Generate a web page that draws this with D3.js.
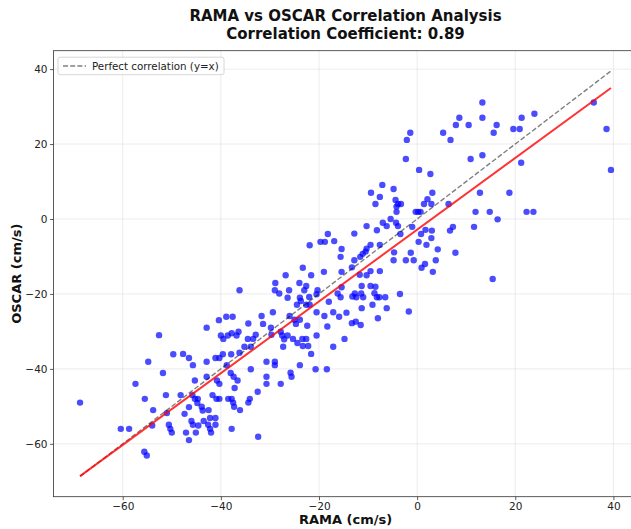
<!DOCTYPE html>
<html>
<head>
<meta charset="utf-8">
<script src="https://cdn.jsdelivr.net/npm/d3@7"></script>
<style>
  body { margin: 0; background: #fff; }
  svg { display: block; font-family: "DejaVu Sans", sans-serif; }
</style>
</head>
<body>
<svg id="chart" width="631" height="529"></svg>
<script>
// Paired current speeds (cm/s): RAMA mooring vs OSCAR product
const rama = [
  -68.7,-52.6,-54.8,-57.4,-55.5,-53.8,-60.4,-58.7,-55.6,-55.1,-51.8,-51.2,-51.0,-54.0,-50.6,-50.3,-50.0,-49.7,-47.7,-46.5,-48.2,-47.4,-47.1,-46.5,-46.5,
  -45.7,-45.3,-42.9,-42.9,-41.1,-40.3,-39.6,-37.9,-40.0,-39.5,-38.6,-37.8,-36.8,-36.4,-35.2,-33.9,-34.5,-33.4,-32.9,-36.2,-38.8,-38.0,-37.4,-36.6,-40.8,-40.3,-33.9,-37.2,-32.5,-45.8,-45.3,-44.7,-44.8,-43.9,-43.7,-42.5,-41.7,-40.9,-40.3,-38.5,-37.8,-37.5,-37.3,-36.1,-34.4,-34.1,-46.0,-45.7,-44.6,-45.1,-43.5,-42.6,-42.2,-42.0,-42.2,-41.1,-41.1,-37.8,-32.4,
  -23.3,-26.8,-21.6,-19.0,-28.9,-24.0,-29.0,-28.1,-26.1,-22.6,-23.0,-20.3,-36.2,-26.4,-23.9,-23.7,-24.5,-22.0,-21.9,-20.5,-22.6,-20.5,-18.9,-18.0,-29.4,-26.0,-25.0,-24.7,-23.9,-22.4,-31.7,-31.4,-29.8,-34.4,-40.4,-38.9,-37.6,-42.9,-18.3,-21.9,-19.7,-18.8,-18.2,
  -27.8,-27.5,-26.4,-27.1,-25.3,-24.4,-23.4,-22.6,-23.3,-22.2,-21.6,-20.5,-27.3,-30.7,-29.0,-29.0,-30.7,-30.7,-27.8,-25.8,-25.6,-23.9,-20.7,-18.4,-17.1,-14.8,-29.7,
  -9.4,-7.6,-8.5,-4.4,-3.9,-3.3,-4.2,-4.2,-0.3,0.2,0.7,1.4,2.1,-5.4,-7.0,-6.2,-4.3,-3.9,-10.3,-8.2,-12.8,-16.9,-15.4,-15.6,-9.5,-7.6,-10.3,-10.5,-11.1,-11.6,-12.8,-4.7,-1.3,0.8,0.3,1.7,1.9,1.6,-4.8,-2.3,-0.7,0.9,-7.6,-9.5,-10.3,-11.7,-13.3,-15.4,-11.3,-9.5,-8.5,-8.7,-8.2,-11.4,-12.7,-13.2,-12.4,-11.0,-15.4,-16.2,-15.6,-7.7,-6.5,-9.1,-6.2,-3.5,-1.7,-8.0,-11.3,-17.1,-13.3,-12.5,-11.5,-3.4,-1.0,-14.4,-15.9,
  13.3,13.3,8.6,7.9,10.5,5.3,6.8,15.6,16.2,19.6,20.9,21.3,23.9,36.0,38.6,39.5,13.3,10.9,21.2,18.8,12.8,11.9,14.8,16.4,22.3,23.7,6.4,3.1,2.9,2.7,3.0,2.9,4.2,3.8,3.2,6.7,7.3,7.8,11.6,15.4,-1.4,-2.1,-2.3,0.4,-7.1,-4.8
];
const oscar = [
  -49.0,-31.0,-38.1,-44.0,-48.0,-51.0,-56.0,-56.0,-62.1,-63.1,-41.1,-47.0,-51.8,-55.1,-54.9,-56.0,-57.0,-36.1,-36.0,-37.1,-47.0,-52.0,-57.0,-59.0,-50.2,
  -39.0,-43.1,-38.1,-42.1,-37.1,-37.1,-36.1,-36.1,-31.1,-32.0,-31.1,-30.5,-31.1,-30.1,-34.1,-34.1,-32.0,-32.0,-30.9,-35.7,-39.0,-41.1,-42.1,-43.1,-43.1,-44.0,-40.1,-45.1,-46.1,-47.0,-48.0,-48.0,-49.1,-50.1,-51.1,-51.0,-47.0,-48.0,-48.0,-48.0,-48.0,-49.0,-50.1,-51.0,-49.0,-48.0,-53.9,-54.9,-55.1,-57.0,-53.9,-54.9,-56.0,-57.0,-53.1,-53.1,-54.9,-56.0,-58.1,
  -13.0,-15.0,-15.0,-14.1,-17.1,-17.1,-19.0,-19.9,-19.0,-17.9,-19.0,-19.0,-19.0,-21.0,-21.0,-21.9,-22.9,-20.8,-22.9,-20.1,-22.9,-24.9,-25.9,-22.1,-24.9,-25.9,-26.9,-28.0,-26.9,-28.5,-25.9,-28.0,-29.0,-27.9,-27.0,-26.1,-26.1,-29.0,-28.7,-7.0,-6.1,-6.1,-4.0,
  -30.1,-31.1,-31.1,-32.1,-32.0,-33.1,-32.0,-32.0,-33.9,-33.9,-36.0,-31.1,-34.1,-38.1,-38.1,-39.0,-42.1,-44.0,-44.0,-41.0,-42.1,-39.0,-40.1,-40.1,-34.1,-32.0,-30.9,
  7.0,5.9,4.0,5.1,4.0,4.0,3.3,1.9,1.9,1.9,1.9,4.0,5.3,0.0,-1.0,-1.9,-1.0,-1.9,-1.9,-3.0,-3.9,-5.9,-8.0,-10.1,-6.9,-6.9,-7.9,-8.7,-9.3,-10.1,-11.0,-8.9,-9.0,-4.0,-6.1,-2.9,-6.9,-12.0,-11.0,-11.0,-11.0,-13.0,-13.9,-13.9,-15.0,-14.9,-12.9,-14.1,-17.9,-17.9,-18.1,-19.8,-20.9,-19.9,-19.9,-20.7,-20.9,-20.9,-18.2,-19.9,-20.9,-20.9,-20.9,-22.9,-23.8,-20.0,-24.7,-26.5,-23.8,-24.9,-27.8,-27.4,-28.3,-4.0,-2.1,-25.0,-26.1,
  31.1,27.0,27.0,25.1,25.1,23.0,21.1,23.0,25.1,24.0,24.0,27.0,28.1,31.1,24.0,13.1,17.0,16.0,15.0,7.0,7.0,1.9,1.9,-0.1,1.9,1.9,4.0,7.0,4.0,12.0,-3.1,-5.1,-8.1,-11.0,-14.1,-3.1,-2.1,-9.0,-2.1,-16.0,23.0,21.1,16.0,13.1,9.1,8.0
];

const xTicks = [-60, -40, -20, 0, 20, 40];
const yTicks = [-60, -40, -20, 0, 20, 40];
const titleLines = ["RAMA vs OSCAR Correlation Analysis", "Correlation Coefficient: 0.89"];
const xLabel = "RAMA (cm/s)";
const yLabel = "OSCAR (cm/s)";
const legendLabel = "Perfect correlation (y=x)";

const svg = d3.select("#chart");
const margin = { left: 53.5, top: 50.7 };
const plotW = 584, plotH = 446;

// Shared range for the 1:1 reference line and both axes (5% padding)
const lo = Math.min(d3.min(rama), d3.min(oscar));
const hi = Math.max(d3.max(rama), d3.max(oscar));
const pad = (hi - lo) * 0.05;

const x = d3.scaleLinear().domain([lo - pad, hi + pad]).range([0, plotW]);
const y = d3.scaleLinear().domain([lo - pad, hi + pad]).range([plotH, 0]);

// Least-squares fit of OSCAR on RAMA
const n = rama.length;
const mx = d3.mean(rama), my = d3.mean(oscar);
let sxy = 0, sxx = 0;
for (let i = 0; i < n; i++) {
  sxy += (rama[i] - mx) * (oscar[i] - my);
  sxx += (rama[i] - mx) ** 2;
}
const slope = sxy / sxx;
const intercept = my - slope * mx;

const g = svg.append("g").attr("transform", `translate(${margin.left},${margin.top})`);

const clip = svg.append("defs").append("clipPath").attr("id", "plot-clip");
clip.append("rect").attr("width", plotW).attr("height", plotH);

// Grid
const grid = g.append("g").attr("stroke", "#b0b0b0").attr("stroke-opacity", 0.3).attr("stroke-width", 0.8);
grid.selectAll("line.gx").data(xTicks).join("line")
  .attr("x1", d => x(d)).attr("x2", d => x(d)).attr("y1", 0).attr("y2", plotH);
grid.selectAll("line.gy").data(yTicks).join("line")
  .attr("x1", 0).attr("x2", plotW).attr("y1", d => y(d)).attr("y2", d => y(d));

const marks = g.append("g").attr("clip-path", "url(#plot-clip)");

// Scatter points
marks.append("g").selectAll("circle")
  .data(d3.range(n)).join("circle")
  .attr("cx", i => x(rama[i]))
  .attr("cy", i => y(oscar[i]))
  .attr("r", 3.2)
  .attr("fill", "#0000ff")
  .attr("fill-opacity", 0.7);

// Perfect-correlation line
const xr = [d3.min(rama), d3.max(rama)];
marks.append("line")
  .attr("x1", x(lo)).attr("y1", y(lo)).attr("x2", x(hi)).attr("y2", y(hi))
  .attr("stroke", "#000").attr("stroke-opacity", 0.5)
  .attr("stroke-width", 1.4).attr("stroke-dasharray", "5,2.2");

// Regression line
marks.append("line")
  .attr("x1", x(xr[0])).attr("y1", y(slope * xr[0] + intercept))
  .attr("x2", x(xr[1])).attr("y2", y(slope * xr[1] + intercept))
  .attr("stroke", "#ff0000").attr("stroke-opacity", 0.8).attr("stroke-width", 2);

// Axes
const fmt = d3.format("");
const xAxis = g.append("g").attr("transform", `translate(0,${plotH})`)
  .call(d3.axisBottom(x).tickValues(xTicks).tickSize(3.5).tickPadding(2.5).tickFormat(fmt));
const yAxis = g.append("g")
  .call(d3.axisLeft(y).tickValues(yTicks).tickSize(3.5).tickPadding(2.5).tickFormat(fmt));
[xAxis, yAxis].forEach(a => {
  a.select(".domain").remove();
  a.selectAll(".tick line").attr("stroke", "#333").attr("stroke-width", 0.8);
  a.selectAll(".tick text").attr("fill", "#222").style("font-size", "10.5px")
    .style("font-family", '"DejaVu Sans", sans-serif');
});

// Frame
g.append("rect").attr("width", plotW).attr("height", plotH)
  .attr("fill", "none").attr("stroke", "#333").attr("stroke-width", 0.8);

// Legend
const lg = g.append("g").attr("transform", "translate(4.5,6.5)");
lg.append("rect").attr("width", 166).attr("height", 17.5).attr("rx", 2)
  .attr("fill", "#fff").attr("fill-opacity", 0.8).attr("stroke", "#cccccc").attr("stroke-width", 0.8);
lg.append("line").attr("x1", 5).attr("x2", 28).attr("y1", 8.8).attr("y2", 8.8)
  .attr("stroke", "#000").attr("stroke-opacity", 0.5).attr("stroke-width", 1.4).attr("stroke-dasharray", "5,2.2");
lg.append("text").attr("x", 34).attr("y", 12.6).attr("fill", "#222")
  .style("font-size", "10.3px").text(legendLabel);

// Axis titles
const cx = margin.left + plotW / 2;
svg.append("text").attr("x", cx).attr("y", 524).attr("text-anchor", "middle")
  .style("font-size", "13px").style("font-weight", "bold").attr("fill", "#111").text(xLabel);
svg.append("text").attr("transform", `translate(21,${margin.top + plotH / 2}) rotate(-90)`)
  .attr("text-anchor", "middle").style("font-size", "13px").style("font-weight", "bold")
  .attr("fill", "#111").text(yLabel);

// Title
svg.selectAll("text.title").data(titleLines).join("text").attr("class", "title")
  .attr("x", cx).attr("y", (d, i) => 21 + i * 18).attr("text-anchor", "middle")
  .style("font-size", "15px").style("font-weight", "bold").attr("fill", "#111").text(d => d);
</script>
</body>
</html>
